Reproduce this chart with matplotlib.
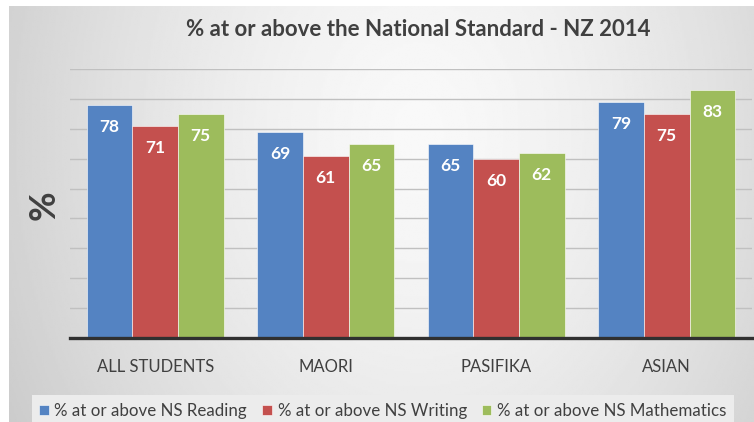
import numpy as np
import matplotlib
matplotlib.use('Agg')
import matplotlib.pyplot as plt

groups = ["ALL STUDENTS", "MAORI", "PASIFIKA", "ASIAN"]
series = ["% at or above NS Reading", "% at or above NS Writing", "% at or above NS Mathematics"]
reading = [78, 69, 65, 79]
writing = [71, 61, 60, 75]
maths = [75, 65, 62, 83]
colors = ["#5483c2", "#c4504e", "#9dbc5c"]

plt.rcParams['font.family'] = ['Lato', 'DejaVu Sans']

fig = plt.figure(figsize=(7.54, 4.22), dpi=100)

# grey background, lighter towards the middle/top
bg = fig.add_axes([9 / 754, 0, 745 / 754, 416 / 422], zorder=-10)
yy, xx = np.mgrid[0:1:200j, 0:1:400j]
r = np.sqrt(((xx - 0.55) / 0.56) ** 2 + ((yy - 0.3) / 1.3) ** 2)
shade = np.clip(0.975 - 0.15 * r ** 1.5, 0.8, 0.975)
bg.imshow(shade, cmap='gray', vmin=0, vmax=1, aspect='auto', origin='upper', extent=[0, 1, 0, 1])
bg.axis('off')

ax = fig.add_axes([70 / 754, (422 - 337.7) / 422, 682 / 754, (337.7 - 69.3) / 422])
ax.set_facecolor('none')

x = np.arange(len(groups))
w = 0.267
for i, vals in enumerate([reading, writing, maths]):
    pos = x + (i - 1) * w
    ax.bar(pos, vals, width=w, color=colors[i], edgecolor='white', linewidth=0.4,
           label=series[i], zorder=3)
    for p, v in zip(pos, vals):
        ax.text(p, v - 7.3, str(v), ha='center', va='center', color='white',
                fontsize=12.5, fontweight='bold', zorder=4)

ax.set_ylim(0, 90)
ax.set_xlim(-0.5, 3.5)
ax.set_yticks(np.arange(10, 91, 10))
ax.yaxis.grid(True, color='#c0c0c0', linewidth=1)
ax.set_axisbelow(True)
ax.tick_params(axis='y', left=False, labelleft=False)
ax.tick_params(axis='x', bottom=False, labelsize=12, labelcolor='#404040', pad=12)
ax.set_xticks(x)
ax.set_xticklabels(groups)
for s in ['top', 'right', 'left']:
    ax.spines[s].set_visible(False)
ax.spines['bottom'].set_color('#303030')
ax.spines['bottom'].set_linewidth(2.4)
ax.spines['bottom'].set_zorder(5)

fig.text(418 / 754, 1 - 30 / 422, "% at or above the National Standard - NZ 2014",
         ha='center', va='center', fontsize=16, fontweight='bold', color='#404040')
fig.text(44 / 754, 1 - 205 / 422, "%", rotation=90, ha='center', va='center',
         fontsize=26, fontweight='bold', color='#404040')

leg = fig.legend(loc='upper center', bbox_to_anchor=(383 / 754, (422 - 387) / 422), ncol=3,
                 fontsize=12.2, frameon=True, fancybox=False, handlelength=0.55,
                 handleheight=0.55, handletextpad=0.35, columnspacing=0.9,
                 borderpad=0.45, labelcolor='#404040')
leg.get_frame().set_facecolor('#ececec')
leg.get_frame().set_edgecolor('none')
leg.get_frame().set_alpha(1)

fig.savefig('out.png', dpi=100)
